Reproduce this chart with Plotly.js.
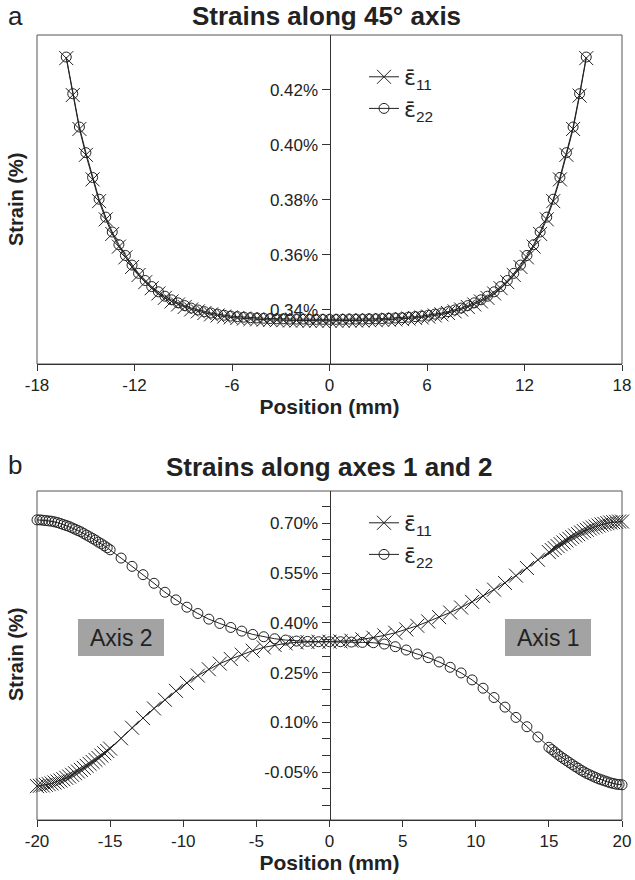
<!DOCTYPE html>
<html>
<head>
<meta charset="utf-8">
<script src="https://cdn.plot.ly/plotly-3.0.1.min.js"></script>
<style>html,body{margin:0;padding:0;background:#fff;}#chart{width:635px;height:880px;}</style>
</head>
<body>
<div id="chart"></div>
<script>
// ---------- Panel a: strains along 45° axis ----------
const posA = [-16.2, -15.8, -15.39, -14.99, -14.58, -14.18, -13.77, -13.37, -12.96, -12.56,
  -12.15, -11.75, -11.34, -10.94, -10.53, -10.13, -9.72, -9.32, -8.91, -8.51,
  -8.1, -7.7, -7.29, -6.89, -6.48, -6.08, -5.67, -5.27, -4.86, -4.46,
  -4.05, -3.65, -3.24, -2.84, -2.43, -2.03, -1.62, -1.22, -0.81, -0.41, 0,
  0.41, 0.81, 1.22, 1.62, 2.03, 2.43, 2.84, 3.24, 3.65, 4.05,
  4.46, 4.86, 5.27, 5.67, 6.08, 6.48, 6.89, 7.29, 7.7, 8.1,
  8.51, 8.91, 9.32, 9.72, 10.13, 10.53, 10.94, 11.34, 11.75, 12.15,
  12.56, 12.96, 13.37, 13.77, 14.18, 14.58, 14.99, 15.39, 15.8, 16.2];
const eps11A = [0.4314, 0.4180, 0.4057, 0.3963, 0.3874, 0.3795, 0.3729, 0.3676, 0.3630, 0.3591,
  0.3556, 0.3527, 0.3501, 0.3479, 0.3460, 0.3444, 0.3431, 0.3420, 0.3411, 0.3402,
  0.3395, 0.3389, 0.3384, 0.3380, 0.3376, 0.3373, 0.3371, 0.3369, 0.3367, 0.3366,
  0.3365, 0.3364, 0.3363, 0.3363, 0.3362, 0.3362, 0.3362, 0.3361, 0.3361, 0.3361, 0.3361,
  0.3361, 0.3361, 0.3362, 0.3362, 0.3362, 0.3363, 0.3363, 0.3364, 0.3365, 0.3366,
  0.3367, 0.3369, 0.3371, 0.3373, 0.3376, 0.3380, 0.3384, 0.3389, 0.3395, 0.3402,
  0.3411, 0.3420, 0.3431, 0.3444, 0.3460, 0.3479, 0.3501, 0.3527, 0.3556, 0.3591,
  0.3630, 0.3676, 0.3729, 0.3795, 0.3874, 0.3963, 0.4057, 0.4178, 0.4314];
const eps22A = [0.4318, 0.4185, 0.4064, 0.3971, 0.3881, 0.3802, 0.3737, 0.3683, 0.3637, 0.3598,
  0.3563, 0.3533, 0.3507, 0.3485, 0.3466, 0.3450, 0.3437, 0.3426, 0.3416, 0.3407,
  0.3400, 0.3394, 0.3389, 0.3385, 0.3381, 0.3378, 0.3376, 0.3374, 0.3372, 0.3371,
  0.3370, 0.3369, 0.3368, 0.3368, 0.3367, 0.3367, 0.3367, 0.3366, 0.3366, 0.3366, 0.3366,
  0.3366, 0.3366, 0.3367, 0.3367, 0.3367, 0.3368, 0.3368, 0.3369, 0.3370, 0.3371,
  0.3372, 0.3374, 0.3376, 0.3378, 0.3381, 0.3385, 0.3389, 0.3394, 0.3400, 0.3407,
  0.3416, 0.3426, 0.3437, 0.3450, 0.3466, 0.3485, 0.3507, 0.3533, 0.3563, 0.3598,
  0.3637, 0.3683, 0.3737, 0.3802, 0.3881, 0.3971, 0.4064, 0.4185, 0.4318];

// ---------- Panel b: strains along axes 1 and 2 ----------
const posB = [-20, -19.8, -19.6, -19.4, -19.2, -19, -18.8, -18.6, -18.4, -18.2,
  -18, -17.8, -17.6, -17.4, -17.2, -17, -16.8, -16.6, -16.4, -16.2,
  -16, -15.8, -15.6, -15.4, -15.2, -15,
  -14.25, -13.5, -12.75, -12, -11.25, -10.5, -9.75, -9, -8.25, -7.5,
  -6.75, -6, -5.25, -4.5, -3.75, -3, -2.25, -1.5, -0.75, 0,
  0.75, 1.5, 2.25, 3, 3.75, 4.5, 5.25, 6, 6.75, 7.5,
  8.25, 9, 9.75, 10.5, 11.25, 12, 12.75, 13.5, 14.25,
  15, 15.2, 15.4, 15.6, 15.8, 16, 16.2, 16.4, 16.6, 16.8,
  17, 17.2, 17.4, 17.6, 17.8, 18, 18.2, 18.4, 18.6, 18.8,
  19, 19.2, 19.4, 19.6, 19.8, 20];
const eps11B = [-0.092, -0.091, -0.090, -0.088, -0.086, -0.084, -0.081, -0.078, -0.075, -0.071,
  -0.067, -0.063, -0.058, -0.053, -0.048, -0.043, -0.037, -0.031, -0.025, -0.019,
  -0.013, -0.007, 0.000, 0.007, 0.014, 0.021,
  0.052, 0.084, 0.113, 0.142, 0.168, 0.195, 0.219, 0.241, 0.260, 0.277,
  0.291, 0.304, 0.316, 0.326, 0.333, 0.338, 0.341, 0.342, 0.343, 0.343,
  0.344, 0.346, 0.350, 0.355, 0.362, 0.370, 0.380, 0.391, 0.404, 0.417,
  0.431, 0.446, 0.463, 0.481, 0.500, 0.520, 0.542, 0.565, 0.590,
  0.613, 0.619, 0.625, 0.631, 0.637, 0.642, 0.648, 0.653, 0.658, 0.663,
  0.667, 0.672, 0.676, 0.680, 0.684, 0.687, 0.690, 0.693, 0.696, 0.698,
  0.700, 0.702, 0.703, 0.704, 0.705, 0.705];
const eps22B = [0.710, 0.710, 0.709, 0.708, 0.707, 0.706, 0.704, 0.702, 0.699, 0.696,
  0.693, 0.690, 0.686, 0.682, 0.678, 0.674, 0.669, 0.664, 0.659, 0.654,
  0.649, 0.643, 0.638, 0.632, 0.626, 0.620,
  0.595, 0.570, 0.545, 0.519, 0.492, 0.469, 0.447, 0.428, 0.411, 0.398,
  0.386, 0.375, 0.365, 0.358, 0.352, 0.348, 0.345, 0.344, 0.343, 0.343,
  0.343, 0.342, 0.341, 0.340, 0.336, 0.328, 0.318, 0.306, 0.295, 0.282,
  0.266, 0.249, 0.228, 0.203, 0.175, 0.146, 0.115, 0.087, 0.056,
  0.025, 0.018, 0.011, 0.004, -0.003, -0.009, -0.015, -0.021, -0.027, -0.033,
  -0.038, -0.044, -0.049, -0.054, -0.058, -0.062, -0.066, -0.070, -0.073, -0.076,
  -0.079, -0.082, -0.084, -0.086, -0.087, -0.088];

// ---------- Tick labels ----------
const xTicksA = [-18, -12, -6, 0, 6, 12, 18];
const xTextA = ['-18', '-12', '-6', '0', '6', '12', '18'];
const yTicksA = [0.34, 0.36, 0.38, 0.40, 0.42];
const yTextA = ['0.34%', '0.36%', '0.38%', '0.40%', '0.42%'];
const xTicksB = [-20, -15, -10, -5, 0, 5, 10, 15, 20];
const xTextB = ['-20', '-15', '-10', '-5', '0', '5', '10', '15', '20'];
const yTicksB = [-0.05, 0.10, 0.25, 0.40, 0.55, 0.70];
const yTextB = ['-0.05%', '0.10%', '0.25%', '0.40%', '0.55%', '0.70%'];
const yMinorB = [-0.15, -0.10, 0.00, 0.05, 0.15, 0.20, 0.30, 0.35, 0.45, 0.50, 0.60, 0.65, 0.75];

const EPS = '<span style="font-family:DejaVu Sans">ε̄</span>';
const name11 = EPS + '<sub>11</sub>';
const name22 = EPS + '<sub>22</sub>';

const INK = '#222';
const FONT = '"Liberation Sans", Arial, sans-serif';

function trace(x, y, name, sym, size, xa, ya, lg) {
  return {
    x: x, y: y, name: name, type: 'scatter', mode: 'lines+markers',
    xaxis: xa, yaxis: ya, legend: lg, cliponaxis: false,
    line: {color: INK, width: 1},
    marker: {symbol: sym, size: size, color: INK, line: {color: INK, width: 1}}
  };
}

const data = [
  trace(posA, eps11A, name11, 'x-thin-open', 14, 'x', 'y', 'legend'),
  trace(posA, eps22A, name22, 'circle-open', 10, 'x', 'y', 'legend'),
  trace(posB, eps11B, name11, 'x-thin-open', 14, 'x2', 'y2', 'legend2'),
  trace(posB, eps22B, name22, 'circle-open', 10, 'x2', 'y2', 'legend2')
];

const W = 635, H = 880;
const px = v => v / W;
const py = v => 1 - v / H;

const domX = [px(37), px(622)];
const domYA = [py(364), py(35)];
const domYB = [py(820), py(491)];

function xAxis(range, tv, tt, anchor) {
  return {
    domain: domX, anchor: anchor, range: range, tickmode: 'array', tickvals: tv, ticktext: tt,
    ticks: 'outside', ticklen: 6, tickcolor: '#333', tickwidth: 1,
    showline: true, linecolor: '#333', linewidth: 1, zeroline: false, showgrid: false,
    tickfont: {family: FONT, size: 17, color: INK},
    title: {text: '<b>Position (mm)</b>', font: {family: FONT, size: 21, color: INK}, standoff: 1}
  };
}
function yAxis(range, dom, tv, tt) {
  return {
    domain: dom, anchor: 'free', position: px(329.5), range: range,
    tickmode: 'array', tickvals: tv, ticktext: tt,
    ticks: 'outside', ticklen: 8, tickcolor: '#333', tickwidth: 1,
    showline: true, linecolor: '#333', linewidth: 1, zeroline: false, showgrid: false,
    tickfont: {family: FONT, size: 17, color: INK}
  };
}

const yB = yAxis([-0.194, 0.797], domYB, yTicksB, yTextB);
yB.minor = {tickmode: 'array', tickvals: yMinorB, ticks: 'outside', ticklen: 8, tickcolor: '#333', tickwidth: 1, showgrid: false};

const legendBase = {
  xanchor: 'left', yanchor: 'top', bgcolor: 'rgba(0,0,0,0)', borderwidth: 0,
  font: {family: FONT, size: 22, color: INK}, itemwidth: 30, tracegroupgap: 0
};

const layout = {
  width: W, height: H,
  margin: {l: 0, r: 0, t: 0, b: 0},
  paper_bgcolor: '#fff', plot_bgcolor: '#fff',
  font: {family: FONT, color: INK},
  showlegend: true,
  xaxis: xAxis([-18, 18], xTicksA, xTextA, 'y'),
  yaxis: yAxis([0.3204, 0.4398], domYA, yTicksA, yTextA),
  xaxis2: xAxis([-20, 20], xTicksB, xTextB, 'y2'),
  yaxis2: yB,
  legend: Object.assign({}, legendBase, {x: px(364), y: py(56)}),
  legend2: Object.assign({}, legendBase, {x: px(364), y: py(502)}),
  shapes: [
    {type: 'rect', xref: 'paper', yref: 'paper', x0: domX[0], x1: domX[1], y0: domYA[0], y1: domYA[1], line: {color: '#555', width: 1}, layer: 'below'},
    {type: 'rect', xref: 'paper', yref: 'paper', x0: domX[0], x1: domX[1], y0: domYB[0], y1: domYB[1], line: {color: '#555', width: 1}, layer: 'below'},
    {type: 'rect', xref: 'paper', yref: 'paper', x0: px(78), x1: px(164), y0: py(656), y1: py(619), fillcolor: '#a3a3a3', line: {width: 0}, layer: 'below'},
    {type: 'rect', xref: 'paper', yref: 'paper', x0: px(505), x1: px(591), y0: py(656), y1: py(619), fillcolor: '#a3a3a3', line: {width: 0}, layer: 'below'}
  ],
  annotations: [
    {text: 'a', xref: 'paper', yref: 'paper', x: px(6), y: py(16), xanchor: 'left', yanchor: 'middle', showarrow: false, font: {family: FONT, size: 26, color: INK}},
    {text: '<b>Strains along 45° axis</b>', xref: 'paper', yref: 'paper', x: px(327), y: py(16), xanchor: 'center', yanchor: 'middle', showarrow: false, font: {family: FONT, size: 26, color: INK}},
    {text: 'b', xref: 'paper', yref: 'paper', x: px(6), y: py(465), xanchor: 'left', yanchor: 'middle', showarrow: false, font: {family: FONT, size: 26, color: INK}},
    {text: '<b>Strains along axes 1 and 2</b>', xref: 'paper', yref: 'paper', x: px(329), y: py(467), xanchor: 'center', yanchor: 'middle', showarrow: false, font: {family: FONT, size: 26, color: INK}},
    {text: '<b>Strain (%)</b>', xref: 'paper', yref: 'paper', x: px(16), y: py(200), xanchor: 'center', yanchor: 'middle', textangle: -90, showarrow: false, font: {family: FONT, size: 20, color: INK}},
    {text: '<b>Strain (%)</b>', xref: 'paper', yref: 'paper', x: px(16), y: py(655), xanchor: 'center', yanchor: 'middle', textangle: -90, showarrow: false, font: {family: FONT, size: 20, color: INK}},
    {text: 'Axis 2', xref: 'paper', yref: 'paper', x: px(121), y: py(637.5), xanchor: 'center', yanchor: 'middle', showarrow: false, font: {family: FONT, size: 23, color: INK}},
    {text: 'Axis 1', xref: 'paper', yref: 'paper', x: px(548), y: py(637.5), xanchor: 'center', yanchor: 'middle', showarrow: false, font: {family: FONT, size: 23, color: INK}}
  ]
};

Plotly.newPlot('chart', data, layout, {staticPlot: true, displayModeBar: false});
</script>
</body>
</html>
